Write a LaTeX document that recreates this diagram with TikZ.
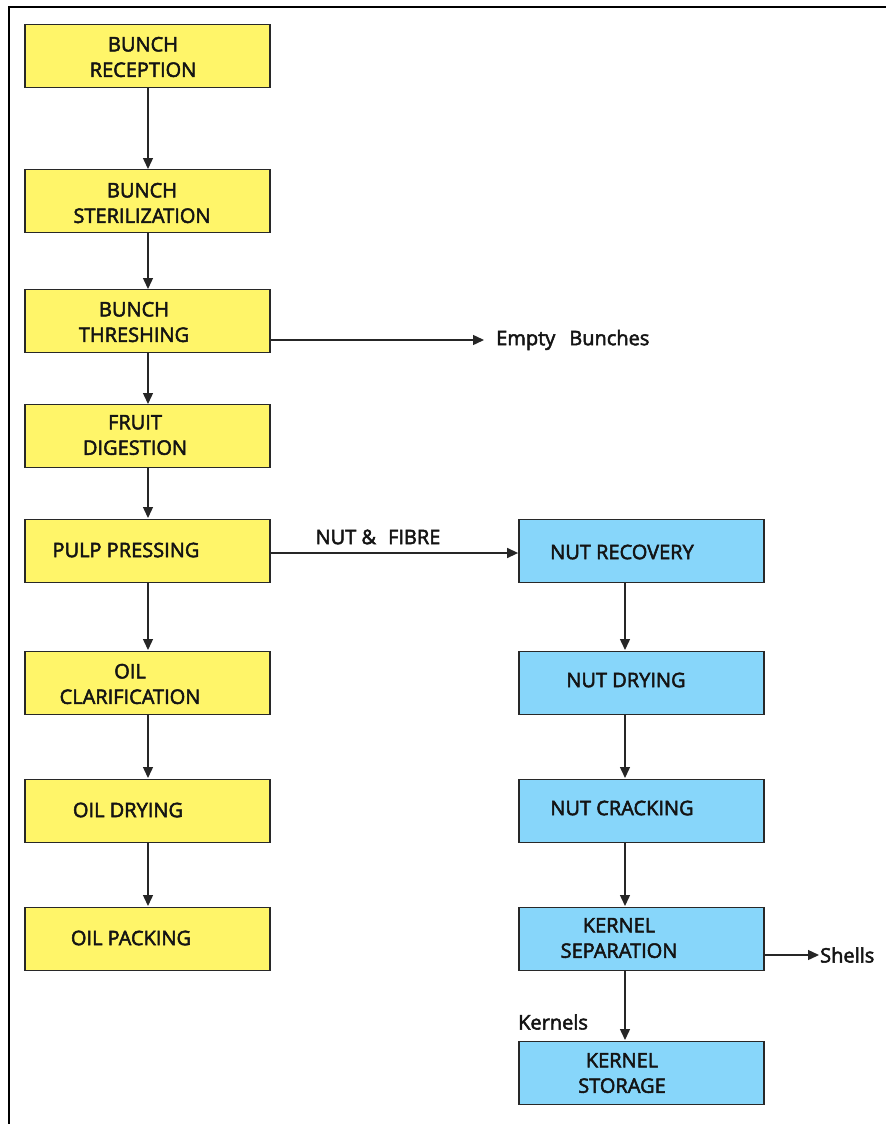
\documentclass[tikz,border=0pt]{standalone}
\usepackage{fontspec}
\setmainfont{Open Sans}
\newfontfamily\capfont{Open Sans}[BoldFont={*}, BoldFeatures={FakeBold=2.5}]
\usetikzlibrary{arrows.meta}
\definecolor{procyellow}{RGB}{255,245,105}
\definecolor{procblue}{RGB}{135,214,250}
\definecolor{edge}{RGB}{40,40,40}
\tikzset{
  x=1pt, y=-1pt,
  stage/.style={draw=edge, line width=1.8pt, minimum width=245pt, minimum height=63pt, inner sep=0pt},
  oilstage/.style={stage, fill=procyellow},
  nutstage/.style={stage, fill=procblue},
  caption/.style={font=\capfont\bfseries\fontsize{20}{25.5}\selectfont, align=center, inner sep=0pt, text=black!92},
  flow/.style={draw=black!85, line width=1.4pt, -{Triangle[length=11pt,width=10pt]}},
}
\begin{document}
\begin{tikzpicture}
\useasboundingbox (0,0) rectangle (886,1124);
% frame
\draw[line width=2.6pt] (9,1124) -- (9,7) -- (886,7);

% oil line (left column)
\node[oilstage] (recv)  at (147.5,56)  {};
\node[oilstage] (ster)  at (147.5,201) {};
\node[oilstage] (thr)   at (147.5,321) {};
\node[oilstage] (dig)   at (147.5,436) {};
\node[oilstage] (press) at (147.5,551) {};
\node[oilstage] (clar)  at (147.5,683) {};
\node[oilstage] (odry)  at (147.5,811) {};
\node[oilstage] (pack)  at (147.5,939) {};

\node[caption] (recv-t)  at (143,57)  {BUNCH\\RECEPTION};
\node[caption] (ster-t)  at (142,203) {BUNCH\\STERILIZATION};
\node[caption] (thr-t)   at (134,322) {BUNCH\\THRESHING};
\node[caption] (dig-t)   at (135,435) {FRUIT\\DIGESTION};
\node[caption] (press-t) at (126,550) {PULP PRESSING};
\node[caption] (clar-t)  at (130,684) {OIL\\CLARIFICATION};
\node[caption] (odry-t)  at (128,810) {OIL DRYING};
\node[caption] (pack-t)  at (131,938) {OIL PACKING};

% nut and kernel line (right column)
\node[nutstage] (nrec)  at (641.5,551)  {};
\node[nutstage] (ndry)  at (641.5,683)  {};
\node[nutstage] (ncrk)  at (641.5,811)  {};
\node[nutstage] (ksep)  at (641.5,939)  {};
\node[nutstage] (kstor) at (641.5,1073) {};

\node[caption] (nrec-t)  at (622,552)  {NUT RECOVERY};
\node[caption] (ndry-t)  at (626,680)  {NUT DRYING};
\node[caption] (ncrk-t)  at (622,808)  {NUT CRACKING};
\node[caption] (ksep-t)  at (619,938)  {KERNEL\\SEPARATION};
\node[caption] (kstor-t) at (622,1073) {KERNEL\\STORAGE};

% side products
\coordinate (eb-end) at (484,340);
\node[caption, anchor=west] (eb) at (496,340) {Empty\hspace{14pt}Bunches};
\coordinate (sh-end) at (819,955);
\node[caption, anchor=west] (sh) at (820,955) {Shells};
\node[caption] (nf) at (378,537) {NUT \&\hspace{12pt}FIBRE};
\node[caption, anchor=west] (kn) at (518,1022) {Kernels};

% main flow
\draw[flow] (148,88)  -- (148,169);
\draw[flow] (148,232) -- (148,289);
\draw[flow] (148,352) -- (148,404);
\draw[flow] (148,468) -- (148,518);
\draw[flow] (148,583) -- (148,650);
\draw[flow] (148,715) -- (148,778);
\draw[flow] (148,843) -- (148,906);

\draw[flow] (thr.east |- 0,340) -- (eb-end);
\draw[flow] (press.east |- 0,553) -- (nrec.west |- 0,553);

\draw[flow] (625,583) -- (625,650);
\draw[flow] (625,715) -- (625,778);
\draw[flow] (625,843) -- (625,906);
\draw[flow] (625,971) -- (625,1040);
\draw[flow] (ksep.east |- 0,955) -- (sh-end);
\end{tikzpicture}
\end{document}
